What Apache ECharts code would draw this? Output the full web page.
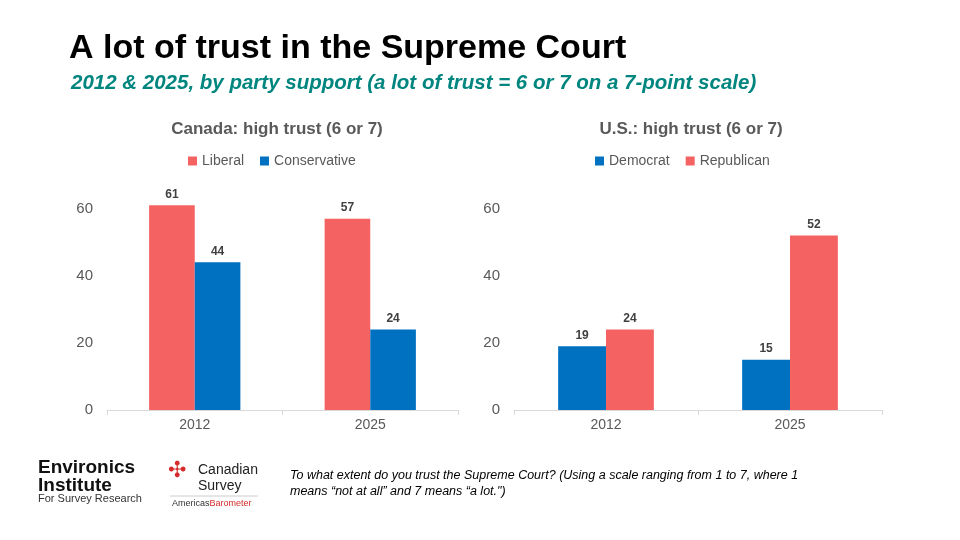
<!DOCTYPE html>
<html><head><meta charset="utf-8">
<script src="https://cdn.jsdelivr.net/npm/echarts@6/dist/echarts.min.js"></script>
<style>html,body{margin:0;padding:0;background:#fff}#main{width:960px;height:540px}</style>
</head><body><div id="main"></div>
<script>
var myChart = echarts.init(document.getElementById('main'));
var red = '#F46262', blue = '#0070C0';
var years = ['2012', '2025'];
var yAx = function (i) {
    return {gridIndex: i, min: 0, max: 70, interval: 20, axisLine: {show: false}, axisTick: {show: false},
        splitLine: {show: false}, axisLabel: {color: '#595959', fontSize: 15, fontFamily: 'Arial', margin: 14,
        formatter: function (v) { return v > 60 ? '' : v; }}};
};
var xAx = function (i) {
    return {gridIndex: i, type: 'category', data: years, axisTick: {show: true, lineStyle: {color: '#d9d9d9'}},
        axisLine: {lineStyle: {color: '#d9d9d9'}}, axisLabel: {color: '#595959', fontSize: 14, fontFamily: 'Arial'}};
};
var lbl = {show: true, position: 'top', color: '#404040', fontWeight: 'bold', fontSize: 12, fontFamily: 'Arial'};
var bar = function (name, color, data, i) {
    return {name: name, type: 'bar', xAxisIndex: i, yAxisIndex: i, data: data, barWidth: '26%', barGap: '0%',
        itemStyle: {color: color}, label: lbl};
};
var option = {
    title: [
        {text: 'A lot of trust in the Supreme Court', left: 64, top: 27, textStyle: {fontSize: 34, fontWeight: 'bold', color: '#000', fontFamily: 'Arial'}},
        {text: '2012 & 2025, by party support (a lot of trust = 6 or 7 on a 7-point scale)', left: 66, top: 68, textStyle: {fontSize: 20.5, fontWeight: 'bold', fontStyle: 'italic', color: '#00857F', fontFamily: 'Arial'}},
        {text: 'Canada: high trust (6 or 7)', left: 272, textAlign: 'center', top: 116, textStyle: {fontSize: 17, fontWeight: 'bold', color: '#595959', fontFamily: 'Arial'}},
        {text: 'U.S.: high trust (6 or 7)', left: 686, textAlign: 'center', top: 116, textStyle: {fontSize: 17, fontWeight: 'bold', color: '#595959', fontFamily: 'Arial'}}
    ],
    legend: [
        {data: ['Liberal', 'Conservative'], left: 183, top: 149, itemWidth: 9, itemHeight: 9, icon: 'rect', itemGap: 16,
            textStyle: {color: '#595959', fontSize: 14, fontFamily: 'Arial'}},
        {data: ['Democrat', 'Republican'], left: 590, top: 149, itemWidth: 9, itemHeight: 9, icon: 'rect', itemGap: 16,
            textStyle: {color: '#595959', fontSize: 14, fontFamily: 'Arial'}}
    ],
    grid: [
        {left: 107, right: 502, top: 175, bottom: 130},
        {left: 514, right: 78, top: 175, bottom: 130}
    ],
    xAxis: [xAx(0), xAx(1)],
    yAxis: [yAx(0), yAx(1)],
    series: [
        bar('Liberal', red, [61, 57], 0),
        bar('Conservative', blue, [44, 24], 0),
        bar('Democrat', blue, [19, 15], 1),
        bar('Republican', red, [24, 52], 1)
    ],
    graphic: [
        {type: 'text', left: 38, top: 458, style: {text: 'Environics\nInstitute', font: 'bold 19px Arial', fill: '#111', lineHeight: 18}},
        {type: 'text', left: 38, top: 493, style: {text: 'For Survey Research', font: '11px Arial', fill: '#333'}},
        {type: 'text', left: 168, top: 460, style: {text: '✣', font: '22px Arial', fill: '#d62b2b'}},
        {type: 'text', left: 198, top: 462, style: {text: 'Canadian\nSurvey', font: '14px Arial', fill: '#222', lineHeight: 16}},
        {type: 'line', shape: {x1: 170, y1: 496, x2: 258, y2: 496}, style: {stroke: '#ccc'}},
        {type: 'text', left: 172, top: 499, style: {rich: {a: {font: '9px Arial', fill: '#333'}, b: {font: '9px Arial', fill: '#d62b2b'}}, text: '{a|Americas}{b|Barometer}'}},
        {type: 'text', left: 290, top: 468, style: {text: 'To what extent do you trust the Supreme Court? (Using a scale ranging from 1 to 7, where 1\nmeans \u201cnot at all\u201d and 7 means \u201ca lot.")', font: 'italic 12.5px Arial', fill: '#000', lineHeight: 16}}
    ]
};
myChart.setOption(option);
</script></body></html>
